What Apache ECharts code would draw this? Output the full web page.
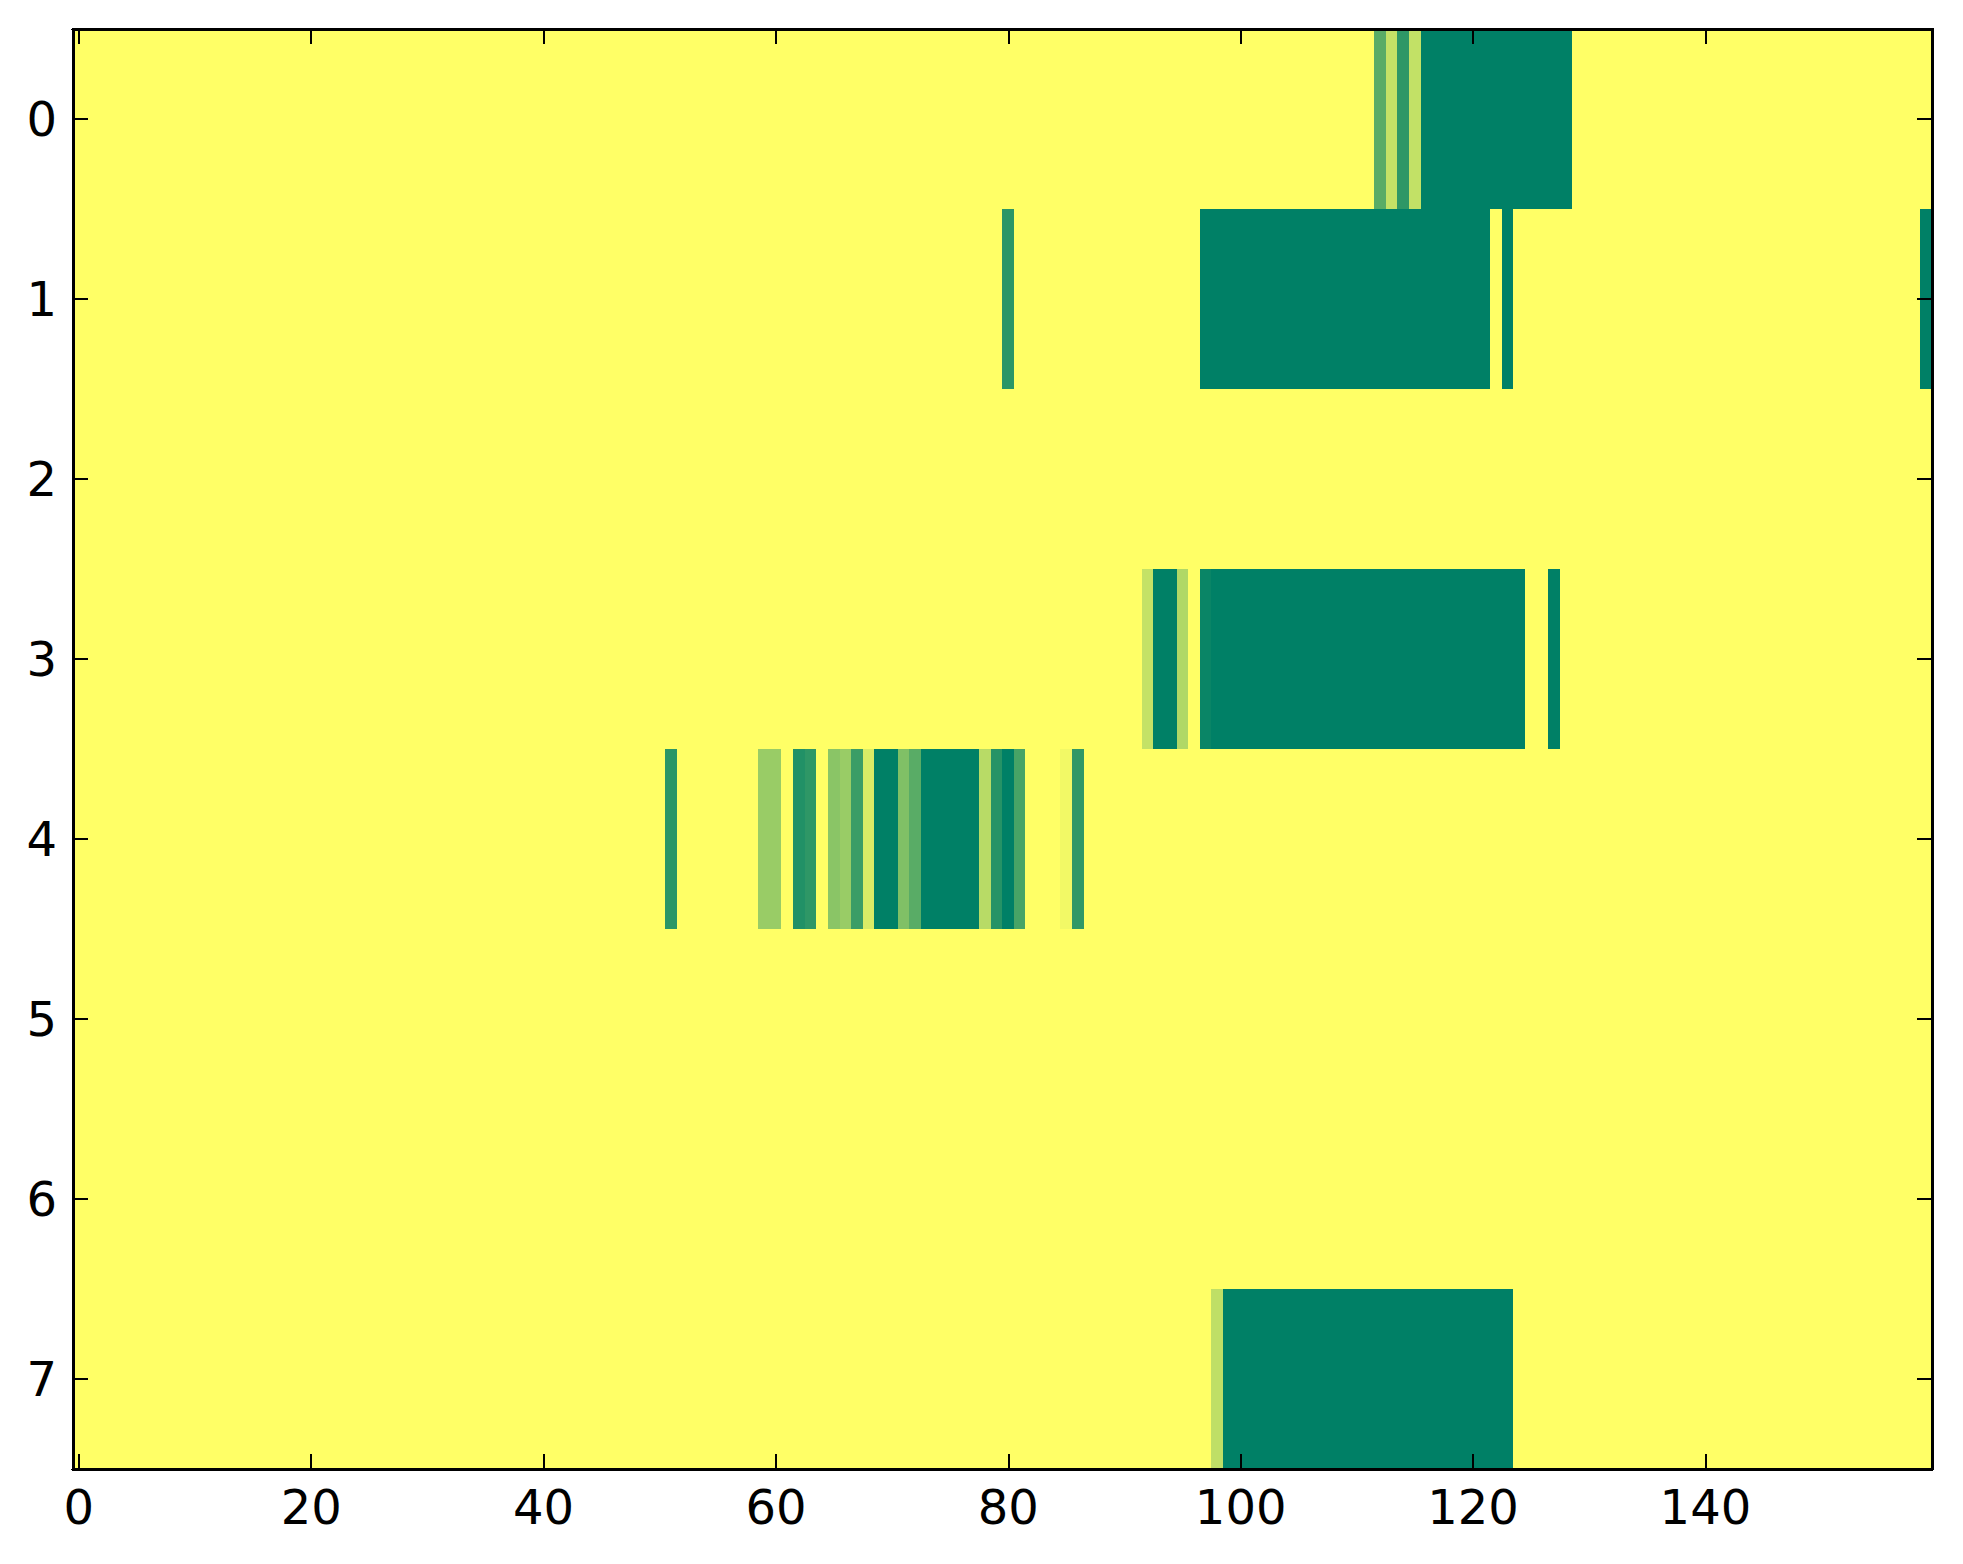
<!DOCTYPE html>
<html>
<head>
<meta charset="utf-8">
<script src="https://cdn.jsdelivr.net/npm/echarts@6/dist/echarts.min.js"></script>
<style>
    html, body { margin: 0; padding: 0; background: #fff; }
    #chart { width: 1963px; height: 1564px; }
    /* avoid anti-aliased seams between adjacent cells */
    #chart svg path { shape-rendering: crispEdges; }
</style>
</head>
<body>
<div id="chart"></div>
<script type="text/javascript">
    // grid size: 160 columns x 8 rows
    var nCols = 160;
    var rowLabels = ['0', '1', '2', '3', '4', '5', '6', '7'];
    var xTickStep = 20;

    // non-background cells per row: [column, value]; all other cells are 0 (yellow)
    var row0 = [[112, 0.65], [113, 0.23], [114, 0.82], [115, 0.24],
        [116, 1], [117, 1], [118, 1], [119, 1], [120, 1], [121, 1], [122, 1],
        [123, 1], [124, 1], [125, 1], [126, 1], [127, 1], [128, 1]];
    var row1 = [[80, 0.83],
        [97, 1], [98, 1], [99, 1], [100, 1], [101, 1], [102, 1], [103, 1], [104, 1],
        [105, 1], [106, 1], [107, 1], [108, 1], [109, 1], [110, 1], [111, 1], [112, 1],
        [113, 1], [114, 1], [115, 1], [116, 1], [117, 1], [118, 1], [119, 1], [120, 1],
        [121, 1], [123, 1], [159, 1]];
    var row2 = [];
    var row3 = [[92, 0.23], [93, 1], [94, 1], [95, 0.31], [97, 0.96],
        [98, 1], [99, 1], [100, 1], [101, 1], [102, 1], [103, 1], [104, 1], [105, 1],
        [106, 1], [107, 1], [108, 1], [109, 1], [110, 1], [111, 1], [112, 1], [113, 1],
        [114, 1], [115, 1], [116, 1], [117, 1], [118, 1], [119, 1], [120, 1], [121, 1],
        [122, 1], [123, 1], [124, 1], [127, 1]];
    var row4 = [[51, 0.83], [59, 0.40], [60, 0.40], [62, 0.87], [63, 0.82],
        [65, 0.46], [66, 0.40], [67, 0.77], [68, 0.15], [69, 1], [70, 1],
        [71, 0.50], [72, 0.65], [73, 1], [74, 1], [75, 1], [76, 1], [77, 1],
        [78, 0.28], [79, 0.85], [80, 1], [81, 0.72], [85, 0.05], [86, 0.81]];
    var row5 = [];
    var row6 = [];
    var row7 = [[98, 0.25],
        [99, 1], [100, 1], [101, 1], [102, 1], [103, 1], [104, 1], [105, 1], [106, 1],
        [107, 1], [108, 1], [109, 1], [110, 1], [111, 1], [112, 1], [113, 1], [114, 1],
        [115, 1], [116, 1], [117, 1], [118, 1], [119, 1], [120, 1], [121, 1], [122, 1],
        [123, 1]];

    var rows = [row0, row1, row2, row3, row4, row5, row6, row7];

    var colLabels = [];
    for (var c = 0; c < nCols; c++) colLabels.push(String(c));

    var cells = [];
    for (var r = 0; r < rows.length; r++) {
        var vals = {};
        for (var k = 0; k < rows[r].length; k++) vals[rows[r][k][0]] = rows[r][k][1];
        for (var c2 = 0; c2 < nCols; c2++) {
            cells.push([c2, r, vals[c2] !== undefined ? vals[c2] : 0]);
        }
    }

    var font = 'DejaVu Sans';
    var tickStyle = {show: true, inside: true, length: 15, alignWithLabel: true,
        lineStyle: {color: '#000', width: 1.5}};
    var lineStyle = {show: true, onZero: false, lineStyle: {color: '#000', width: 3}};

    function xAxis(pos, showLabel) {
        return {
            type: 'category', data: colLabels, position: pos, z: 10,
            axisLine: lineStyle,
            axisTick: Object.assign({interval: xTickStep - 1}, tickStyle),
            axisLabel: {show: showLabel, interval: xTickStep - 1, fontSize: 48,
                fontFamily: font, color: '#000', margin: 14},
            splitLine: {show: false}, splitArea: {show: false}
        };
    }
    function yAxis(pos, showLabel) {
        return {
            type: 'category', data: rowLabels, position: pos, inverse: true, z: 10,
            axisLine: lineStyle,
            axisTick: Object.assign({interval: 0}, tickStyle),
            axisLabel: {show: showLabel, interval: 0, fontSize: 48,
                fontFamily: font, color: '#000', margin: 16},
            splitLine: {show: false}, splitArea: {show: false}
        };
    }

    var myChart = echarts.init(document.getElementById('chart'), null, {renderer: 'svg'});
    var option = {
        backgroundColor: '#ffffff',
        animation: false,
        grid: {left: 73, top: 29, right: 31, bottom: 95, containLabel: false},
        xAxis: [xAxis('bottom', true), xAxis('top', false)],
        yAxis: [yAxis('left', true), yAxis('right', false)],
        visualMap: {
            show: false, type: 'continuous', min: 0, max: 1, dimension: 2,
            inRange: {color: ['#ffff66', '#008066']}  // summer_r
        },
        series: [{
            type: 'heatmap',
            xAxisIndex: 0,
            yAxisIndex: 0,
            z: 1,
            data: cells,
            itemStyle: {borderWidth: 0},
            emphasis: {disabled: true}
        }]
    };
    myChart.setOption(option);
</script>
</body>
</html>
